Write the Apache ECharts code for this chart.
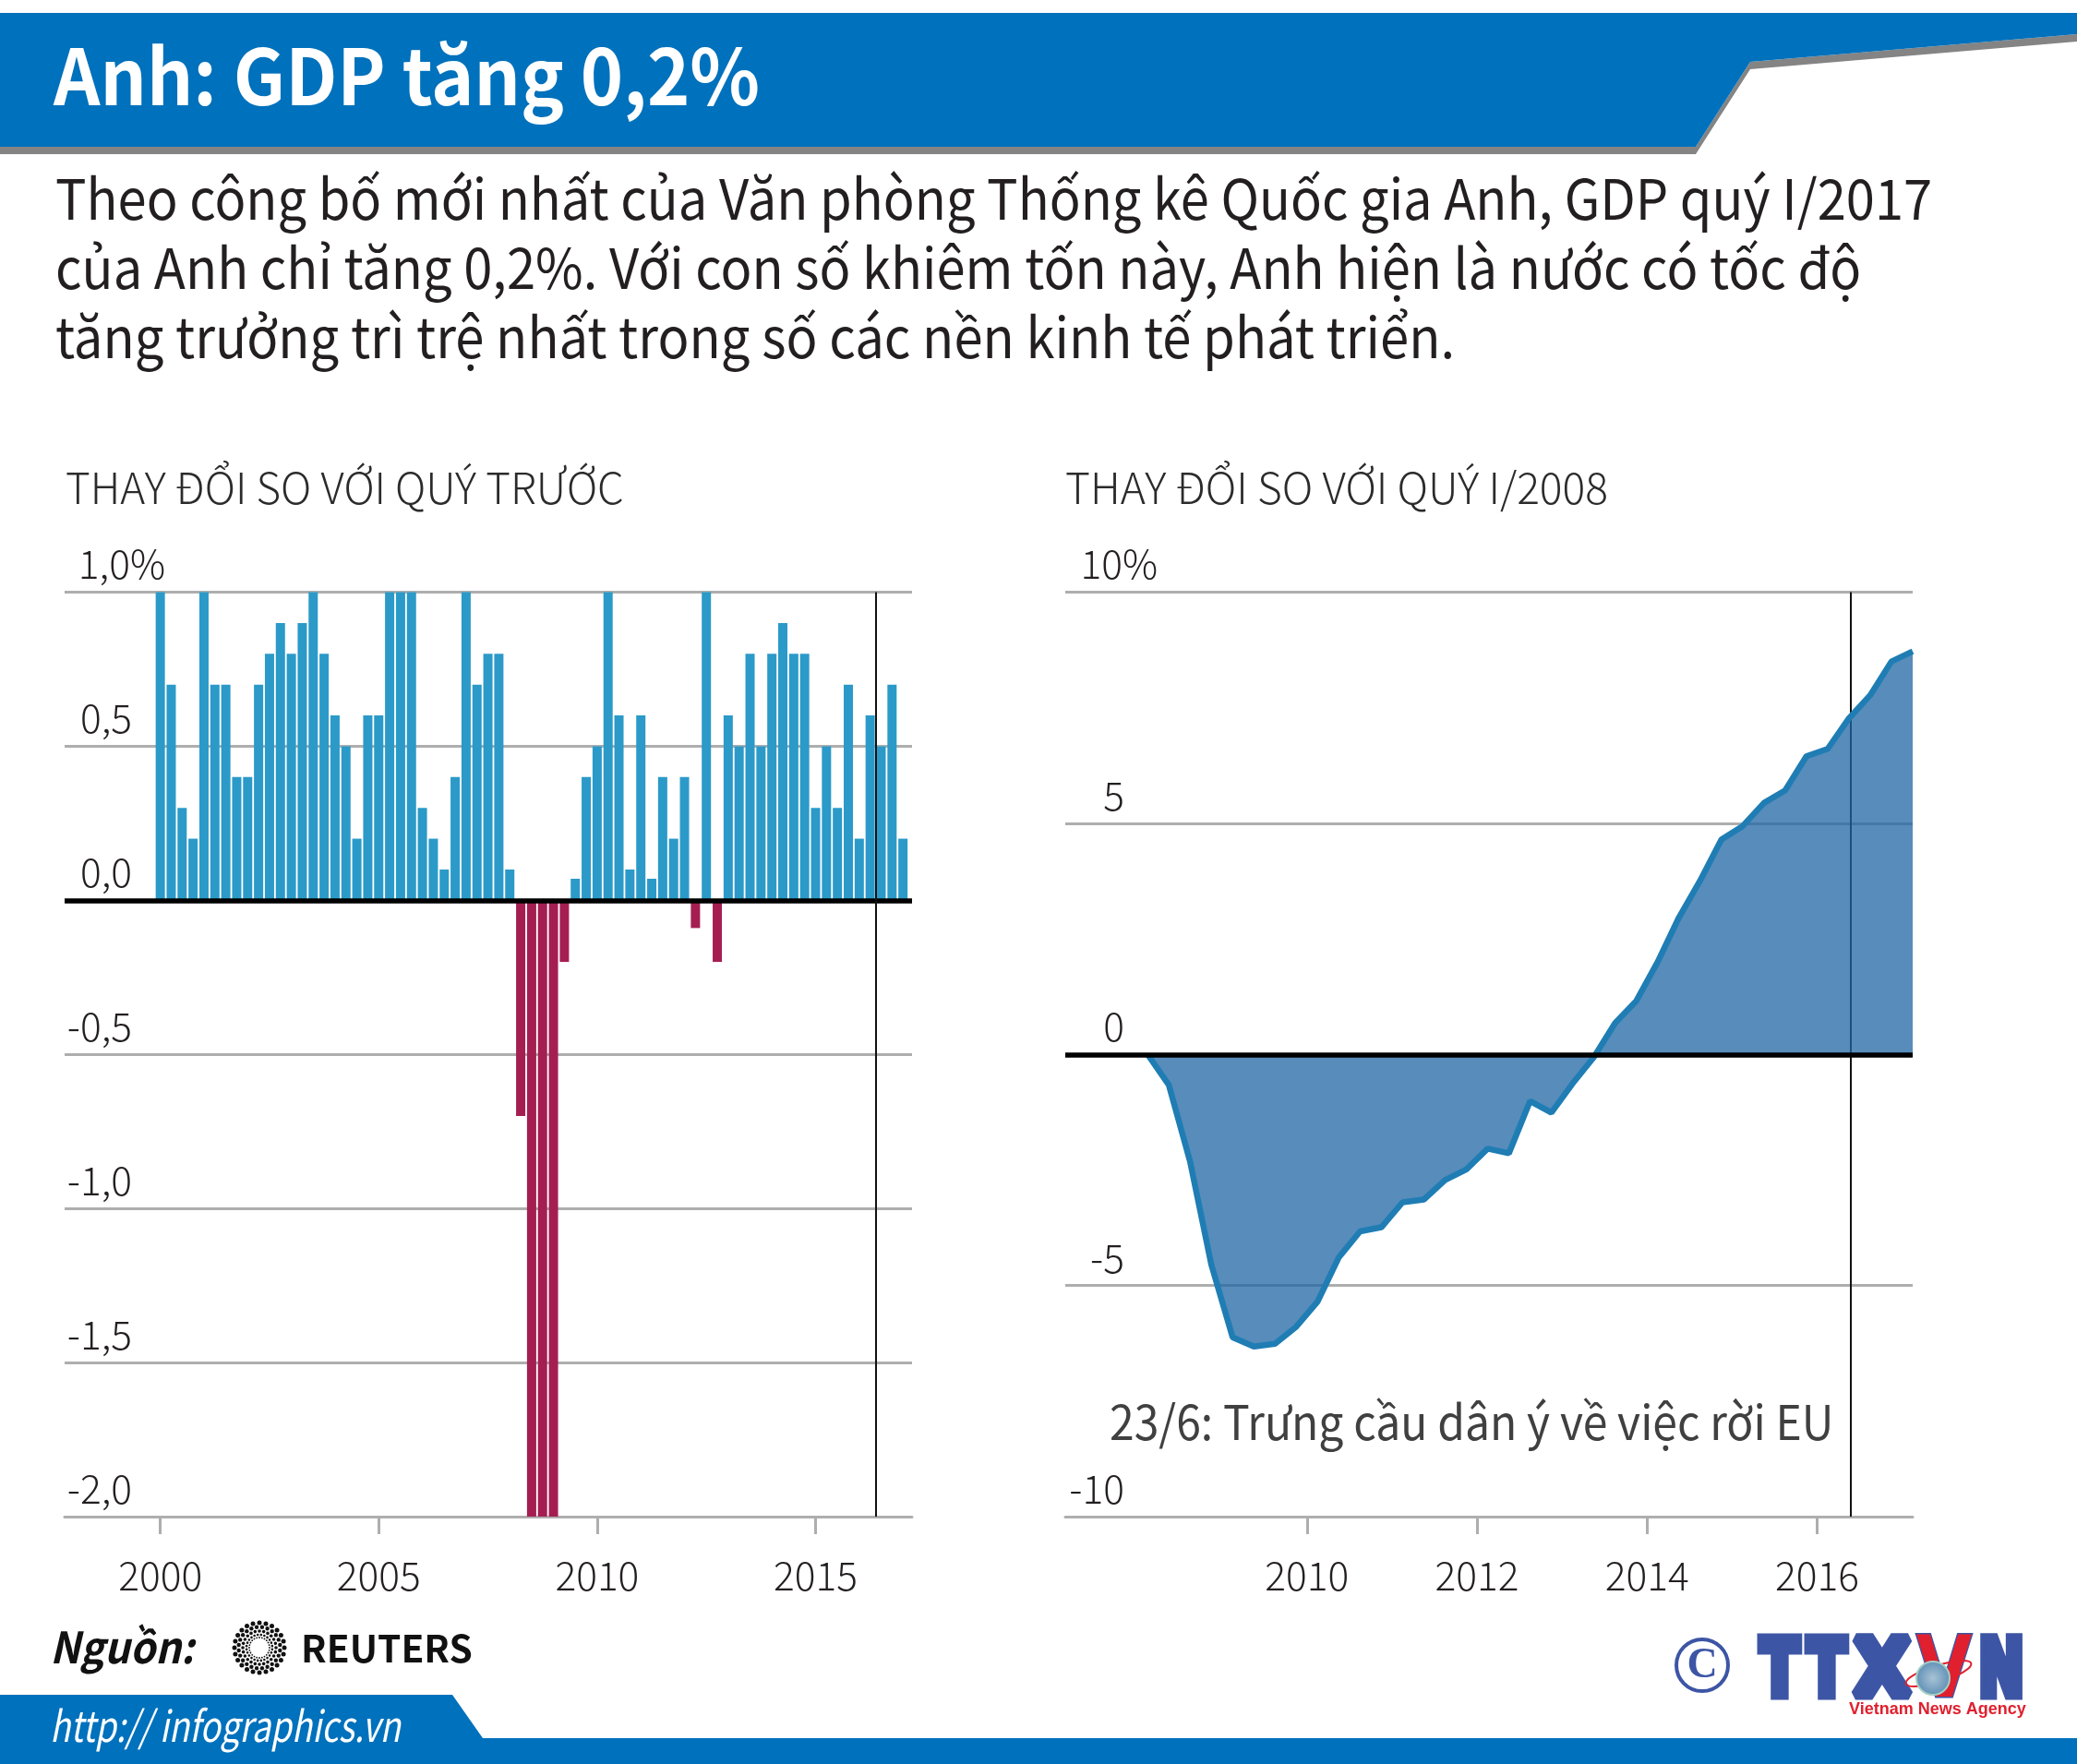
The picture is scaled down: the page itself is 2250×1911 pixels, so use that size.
<!DOCTYPE html>
<html>
<head>
<meta charset="utf-8">
<title>Anh: GDP tăng 0,2%</title>
<script src="https://cdn.jsdelivr.net/npm/echarts@6/dist/echarts.min.js"></script>
<style>
html, body { margin: 0; padding: 0; background: #fff; }
#main { width: 2250px; height: 1911px; }
</style>
</head>
<body>
<div id="main"></div>
<script>
// quarter on quarter change, Q1 2000 .. Q1 2017
var firstBarYear = 2000;
var quarterlyChange = [
    1.0, 0.7, 0.3, 0.2,
    1.0, 0.7, 0.7, 0.4,
    0.4, 0.7, 0.8, 0.9,
    0.8, 0.9, 1.0, 0.8,
    0.6, 0.5, 0.2, 0.6,
    0.6, 1.0, 1.0, 1.0,
    0.3, 0.2, 0.1, 0.4,
    1.0, 0.7, 0.8, 0.8,
    0.1, -0.7, -2.0, -2.0,
    -2.0, -0.2, 0.07, 0.4,
    0.5, 1.0, 0.6, 0.1,
    0.6, 0.07, 0.4, 0.2,
    0.4, -0.09, 1.0, -0.2,
    0.6, 0.5, 0.8, 0.5,
    0.8, 0.9, 0.8, 0.8,
    0.3, 0.5, 0.3, 0.7,
    0.2, 0.6, 0.5, 0.7,
    0.2
];
// change against Q1 2008, same quarters up to Q1 2017
var firstLineYear = 2008.125;
var changeSince2008 = [
    0, -0.66, -2.32, -4.55,
    -6.12, -6.32, -6.26, -5.89,
    -5.35, -4.39, -3.83, -3.74,
    -3.2, -3.14, -2.72, -2.49,
    -2.04, -2.14, -1.01, -1.26,
    -0.63, -0.06, 0.68, 1.16,
    2.0, 2.96, 3.76, 4.65,
    4.94, 5.44, 5.71, 6.45,
    6.61, 7.27, 7.77, 8.5,
    8.72
];
var leftYears = [2000, 2005, 2010, 2015];
var rightYears = [2010, 2012, 2014, 2016];
var referendumLeft = 2016.38;
var referendumRight = 2016.39;

var FONT = '"Noto Sans CJK SC", "Noto Sans", sans-serif';
var BLUE = '#0071bc';
var LOGO_BLUE = '#3d55a5';
var LOGO_RED = '#e0202e';
var INK = '#231f20';
var TICK_SIZE = 42.5;

function toPoints(startYear, values) {
    var points = [];
    for (var i = 0; i < values.length; i++) {
        points.push([startYear + i * 0.25, values[i]]);
    }
    return points;
}

function yLabelLeft(value) {
    var text = value.toFixed(1).replace('.', ',');
    return value === 1 ? '{v|' + text + '}{pct|%}' : '{v|' + text + '}{gap| }';
}

function yLabelRight(value) {
    return value === 10 ? '{v|' + value + '}{pct|%}' : '{v|' + value + '}{gap| }';
}

function yAxisOption(gridIndex, min, max, interval, margin, formatter) {
    return {
        type: 'value',
        gridIndex: gridIndex,
        min: min,
        max: max,
        interval: interval,
        axisLine: { show: false },
        axisTick: { show: false },
        splitLine: { lineStyle: { color: '#aeaeae', width: 3 } },
        axisLabel: {
            inside: true,
            margin: margin,
            align: 'right',
            verticalAlign: 'bottom',
            formatter: formatter,
            rich: {
                v: { fontFamily: FONT, fontWeight: 300, fontSize: TICK_SIZE, color: INK, padding: [0, 0, 9, 0] },
                pct: { fontFamily: FONT, fontWeight: 300, fontSize: TICK_SIZE, color: INK, padding: [0, 0, 9, 0] },
                gap: { fontSize: TICK_SIZE, width: 36 }
            }
        }
    };
}

function xAxisOption(gridIndex, min, max, years) {
    return {
        type: 'value',
        gridIndex: gridIndex,
        min: min,
        max: max,
        splitLine: { show: false },
        axisLine: { onZero: false, lineStyle: { color: '#aeaeae', width: 3 } },
        axisTick: { length: 19, lineStyle: { color: '#aeaeae', width: 3 }, customValues: years },
        axisLabel: {
            customValues: years,
            margin: 43,
            fontFamily: FONT,
            fontWeight: 300,
            fontSize: TICK_SIZE,
            color: INK,
            formatter: function (value) { return String(value); }
        }
    };
}

function zeroLine() {
    return { yAxis: 0, lineStyle: { color: '#000', width: 5.5, type: 'solid' } };
}

function referendumLine(x) {
    return { xAxis: x, lineStyle: { color: '#111', width: 2, type: 'solid' } };
}

// header, footer and logos
function reutersDots() {
    var dots = [];
    var rings = [[27, 24, 2.5], [22.5, 24, 2.2], [18, 24, 1.8], [14, 24, 1.3], [11, 24, 0.9]];
    for (var r = 0; r < rings.length; r++) {
        for (var i = 0; i < rings[r][1]; i++) {
            var angle = (i + r * 0.5) / rings[r][1] * Math.PI * 2;
            dots.push({
                type: 'circle',
                shape: { cx: 281 + rings[r][0] * Math.cos(angle), cy: 1785 + rings[r][0] * Math.sin(angle), r: rings[r][2] },
                style: { fill: '#111' }
            });
        }
    }
    return dots;
}

function logoLetter(letter, x, baseline, size, fill, strokeWidth, scaleX) {
    return {
        type: 'text',
        x: x,
        y: baseline - size * 0.846,
        scaleX: scaleX,
        style: {
            text: letter,
            align: 'center',
            verticalAlign: 'top',
            font: 'bold ' + size + 'px "DejaVu Sans"',
            fill: fill,
            stroke: LOGO_BLUE,
            lineWidth: strokeWidth,
            lineJoin: 'miter'
        }
    };
}

// y is the baseline, zrender wants the top of the line box
function textItem(text, x, baseline, size, weight, fill, scaleX) {
    return {
        type: 'text',
        x: x,
        y: baseline - size * 0.9,
        scaleX: scaleX || 1,
        style: { text: text, font: weight + ' ' + size + 'px ' + FONT, fill: fill, verticalAlign: 'top' }
    };
}

function plainText(text, x, baseline, size, font, fill, align) {
    return {
        type: 'text',
        x: x,
        y: baseline - size * 0.85,
        style: { text: text, font: 'bold ' + size + 'px ' + font, fill: fill, align: align || 'left', verticalAlign: 'top' }
    };
}

var graphics = [
    { type: 'polygon', shape: { points: [[0, 159], [1837, 159], [1896, 67], [2250, 37], [2250, 45], [1896, 75], [1837, 167], [0, 167]] }, style: { fill: '#848484' } },
    { type: 'polygon', shape: { points: [[0, 14], [2250, 14], [2250, 37], [1896, 67], [1837, 159], [0, 159]] }, style: { fill: BLUE } },
    textItem('Anh: GDP tăng 0,2%', 58, 116, 84, 'bold', '#fff', 0.937),
    textItem('Theo công bố mới nhất của Văn phòng Thống kê Quốc gia Anh, GDP quý I/2017', 60, 239.5, 60, 'normal', INK, 0.934),
    textItem('của Anh chỉ tăng 0,2%. Với con số khiêm tốn này, Anh hiện là nước có tốc độ', 60, 314.5, 60, 'normal', INK, 0.935),
    textItem('tăng trưởng trì trệ nhất trong số các nền kinh tế phát triển.', 60, 389.5, 60, 'normal', INK, 0.937),
    textItem('THAY ĐỔI SO VỚI QUÝ TRƯỚC', 71, 547, 47, '300', '#2b2b2b', 0.975),
    textItem('THAY ĐỔI SO VỚI QUÝ I/2008', 1154, 547, 47, '300', '#2b2b2b', 0.982),
    textItem('23/6: Trưng cầu dân ý về việc rời EU', 1202, 1561, 52, 'normal', '#404040', 0.924),
    textItem('Nguồn:', 54, 1803, 47, 'italic bold', '#111', 0.93),
    textItem('REUTERS', 326, 1802, 40, 'bold', '#111', 1.015),
    { type: 'polygon', shape: { points: [[0, 1836], [490, 1836], [523, 1883], [2250, 1883], [2250, 1911], [0, 1911]] }, style: { fill: BLUE } },
    textItem('http:// infographics.vn', 54, 1888, 46, 'italic', '#fff', 0.795),
    { type: 'circle', shape: { cx: 1844, cy: 1804, r: 28 }, style: { fill: 'none', stroke: LOGO_BLUE, lineWidth: 4 } },
    plainText('C', 1844, 1821, 46, '"Liberation Sans Narrow"', LOGO_BLUE, 'center'),
    logoLetter('T', 1928, 1843, 83, LOGO_BLUE, 11, 0.73),
    logoLetter('T', 1979, 1843, 83, LOGO_BLUE, 11, 0.73),
    logoLetter('X', 2039, 1843, 83, LOGO_BLUE, 11, 0.95),
    logoLetter('N', 2168, 1843, 83, LOGO_BLUE, 11, 0.7),
    logoLetter('V', 2106, 1846, 92, LOGO_RED, 3, 0.85),
    { type: 'ellipse', shape: { cx: 2100, cy: 1813, rx: 37, ry: 9 }, originX: 2100, originY: 1813, rotation: 0.3, style: { fill: 'none', stroke: LOGO_RED, lineWidth: 2 } },
    {
        type: 'circle',
        shape: { cx: 2094, cy: 1818, r: 18 },
        style: {
            fill: new echarts.graphic.RadialGradient(0.5, 0.5, 0.5, [
                { offset: 0, color: '#a8c3d6' },
                { offset: 1, color: '#5f8fb5' }
            ]),
            stroke: '#a3cfc4',
            lineWidth: 2
        }
    },
    plainText('Vietnam News Agency', 2003, 1858, 18, '"Liberation Sans"', LOGO_RED)
].concat(reutersDots());

var option = {
    animation: false,
    backgroundColor: '#fff',
    grid: [
        { left: 70, right: 2250 - 988, top: 641.5, height: 1001.5 },
        { left: 1154, right: 2250 - 2072, top: 641.5, height: 1001.5 }
    ],
    xAxis: [
        xAxisOption(0, 1997.81, 2017.208, leftYears),
        xAxisOption(1, 2007.157, 2017.125, rightYears)
    ],
    yAxis: [
        yAxisOption(0, -2, 1, 0.5, 109, yLabelLeft),
        yAxisOption(1, -10, 10, 5, 100, yLabelRight)
    ],
    series: [
        {
            type: 'bar',
            xAxisIndex: 0,
            yAxisIndex: 0,
            barWidth: 10,
            data: toPoints(firstBarYear, quarterlyChange),
            itemStyle: {
                color: function (params) {
                    return params.value[1] < 0 ? '#a51e52' : '#2b9ac8';
                }
            },
            markLine: {
                silent: true,
                symbol: 'none',
                label: { show: false },
                data: [zeroLine(), referendumLine(referendumLeft)]
            }
        },
        {
            type: 'line',
            xAxisIndex: 1,
            yAxisIndex: 1,
            z: 3,
            symbol: 'none',
            data: toPoints(firstLineYear, changeSince2008),
            lineStyle: { color: '#1f7db4', width: 6.5 },
            areaStyle: { color: 'rgba(31,102,164,0.75)', opacity: 1 },
            markLine: {
                silent: true,
                symbol: 'none',
                z: 1,
                label: { show: false },
                data: [referendumLine(referendumRight)]
            }
        },
        {
            // black zero line sits above the fill
            type: 'line',
            xAxisIndex: 1,
            yAxisIndex: 1,
            z: 4,
            data: [],
            markLine: {
                silent: true,
                symbol: 'none',
                label: { show: false },
                data: [zeroLine()]
            }
        }
    ],
    graphic: { elements: graphics }
};

var myChart = echarts.init(document.getElementById('main'));
myChart.setOption(option);
</script>
</body>
</html>
